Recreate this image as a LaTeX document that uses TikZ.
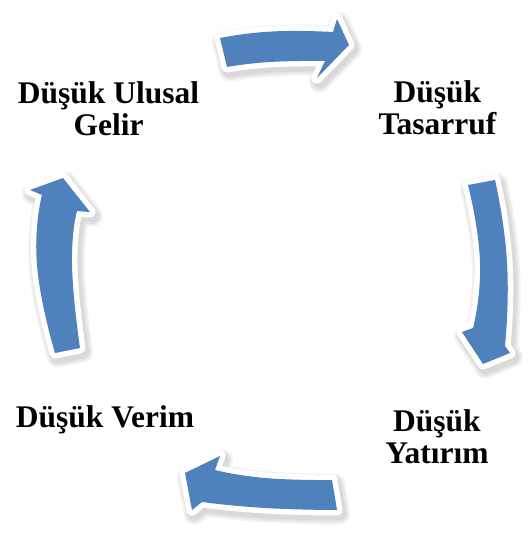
\documentclass[tikz,border=0pt]{standalone}
\usepackage{fontspec}
\setmainfont{Liberation Serif}
\definecolor{arrowblue}{HTML}{4F81BD}
\begin{document}
\begin{tikzpicture}[x=1pt,y=-1pt,
  lbl/.style={font=\bfseries\fontsize{31.5}{32}\selectfont, align=center, inner sep=0pt, anchor=base},
  shadowline/.style={draw=black, opacity=0.05, line join=round},
  rim/.style={fill=white, draw=white, line width=11pt, line join=round},
  body/.style={fill=arrowblue}]
\useasboundingbox[fill=white] (0,0) rectangle (528,536);
% arrow outlines (pixel coordinates, y downwards)
\def\arrowT{(220,38) -- plot[smooth,tension=0.9] coordinates {(220,38) (272,31.5) (333,32)} -- (337,19) -- (349,45) -- (317,78) -- plot[smooth,tension=0.9] coordinates {(325,61) (270,62) (227,67)} -- cycle}
\def\arrowR{(495,180) -- plot[smooth,tension=0.9] coordinates {(495,180) (507,262) (505,346)} -- (510,353) -- (483,364) -- (462,332) -- plot[smooth,tension=0.9] coordinates {(473,328) (480,262) (468,185)} -- cycle}
\def\arrowB{(337,510) -- plot[smooth,tension=0.9] coordinates {(337,510) (265,508) (202,502)} -- (192,510) -- (185,473) -- (220,456) -- plot[smooth,tension=0.9] coordinates {(215,470) (265,478) (332,480)} -- cycle}
\def\arrowL{(55,353) -- plot[smooth,tension=0.9] coordinates {(55,353) (37,265) (42,195)} -- (30,190) -- (63,178) -- (90,212) -- plot[smooth,tension=0.9] coordinates {(77,211) (72,265) (80,348)} -- cycle}
\foreach \a in {\arrowT,\arrowR,\arrowB,\arrowL}{
  \begin{scope}[shift={(2.5,4)}]
    \path[shadowline, line width=21pt] \a;
    \path[shadowline, line width=17pt] \a;
    \path[shadowline, line width=13pt] \a;
  \end{scope}
  \path[rim] \a;
  \path[body] \a;
}
% labels (anchor base = baseline of the last line)
\node[lbl] (ulusal) at (108.5,135) {Düşük Ulusal\\Gelir};
\node[lbl] (tasarruf) at (437.5,134) {Düşük\\Tasarruf};
\node[lbl] (yatirim) at (437,463) {Düşük\\Yatırım};
\node[lbl] (verim) at (105,427) {Düşük Verim};
\end{tikzpicture}
\end{document}
